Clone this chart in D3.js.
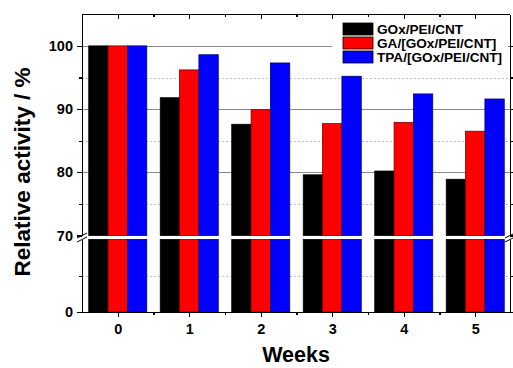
<!DOCTYPE html>
<meta charset="utf-8">
<style>
 body { margin: 0; background: #fff; }
 svg { display: block; font-family: 'Liberation Sans', Arial, Helvetica, sans-serif; font-weight: bold; }
 .axis path, .axis line { fill: none; stroke: #000; stroke-width: 1.2; shape-rendering: crispEdges; }
 .axis text { font-size: 14.5px; font-weight: bold; fill: #000; }
 .grid-major { stroke: #8a8a8a; stroke-width: 1; shape-rendering: crispEdges; }
 .grid-minor { stroke: #c4c4c4; stroke-width: 1; stroke-dasharray: 2,2; shape-rendering: crispEdges; }
</style>
<body>
<script src="https://cdn.jsdelivr.net/npm/d3@7"></script>
<script>

 // weeks on the x axis
 var weeks = [0, 1, 2, 3, 4, 5];
 var seriesNames = ["GOx/PEI/CNT", "GA/[GOx/PEI/CNT]", "TPA/[GOx/PEI/CNT]"];
 var goxPeiCnt = [100, 91.8, 87.6, 79.6, 80.2, 78.9];
 var gaGoxPeiCnt = [100, 96.2, 89.9, 87.7, 87.9, 86.5];
 var tpaGoxPeiCnt = [100, 98.6, 97.3, 95.2, 92.4, 91.6];

 // broken y axis: upper 70-105, lower 0-70
 var upperTicks = [70, 80, 90, 100];
 var upperMinor = [75, 85, 95];
 var lowerTicks = [0];
 var lowerMinor = [35];

 var colors = ["#000000", "#ff0000", "#0000ff"];
 var strokes = ["#000000", "#7a0000", "#00007a"];

 var width = 513, height = 368;
 var plotLeft = 82, plotRight = 510, plotTop = 14.3, plotBottom = 312;
 var breakTop = 235.5, breakBottom = 239.5;

 var svg = d3.select("body").append("svg")
             .attr("width", width)
             .attr("height", height);

 var x = d3.scaleLinear().domain([-0.5, 5.5]).range([plotLeft, 511]);
 var inner = d3.scaleBand().domain(seriesNames).range([-29, 29]);

 var yUp = d3.scaleLinear().domain([70, 105]).range([breakTop, plotTop]);
 var yLow = d3.scaleLinear().domain([0, 70]).range([plotBottom, breakBottom]);

 var series = seriesNames.map(function(name, i) {
     var vals = [goxPeiCnt, gaGoxPeiCnt, tpaGoxPeiCnt][i];
     return { name: name, color: colors[i], stroke: strokes[i],
              values: weeks.map(function(w, j) { return { week: w, value: vals[j], name: name }; }) };
 });

 // grid lines
 var grid = svg.append("g");
 grid.selectAll(".gm").data(upperTicks.filter(function(d) { return d > 70; }))
     .enter().append("line").attr("class", "grid-major")
     .attr("x1", plotLeft).attr("x2", plotRight)
     .attr("y1", function(d) { return Math.round(yUp(d)) + 0.5; })
     .attr("y2", function(d) { return Math.round(yUp(d)) + 0.5; });
 grid.selectAll(".gu").data(upperMinor).enter().append("line").attr("class", "grid-minor")
     .attr("x1", plotLeft).attr("x2", plotRight)
     .attr("y1", function(d) { return Math.round(yUp(d)) + 0.5; })
     .attr("y2", function(d) { return Math.round(yUp(d)) + 0.5; });
 grid.selectAll(".gl").data(lowerMinor).enter().append("line").attr("class", "grid-minor")
     .attr("x1", plotLeft).attr("x2", plotRight)
     .attr("y1", function(d) { return Math.round(yLow(d)) + 0.5; })
     .attr("y2", function(d) { return Math.round(yLow(d)) + 0.5; });

 // bars, drawn in two pieces around the break
 var groups = svg.selectAll(".series").data(series).enter().append("g");
 groups.selectAll(".bar-up").data(function(d) { return d.values; }).enter().append("rect")
       .attr("x", function(d) { return x(d.week) + inner(d.name); })
       .attr("width", inner.bandwidth())
       .attr("y", function(d) { return yUp(d.value); })
       .attr("height", function(d) { return yUp(70) - yUp(d.value); })
       .attr("fill", function(d) { return colors[seriesNames.indexOf(d.name)]; })
       .attr("stroke", function(d) { return strokes[seriesNames.indexOf(d.name)]; })
       .attr("stroke-width", 0.8);
 groups.selectAll(".bar-low").data(function(d) { return d.values; }).enter().append("rect")
       .attr("x", function(d) { return x(d.week) + inner(d.name); })
       .attr("width", inner.bandwidth())
       .attr("y", yLow(70))
       .attr("height", yLow(0) - yLow(70))
       .attr("fill", function(d) { return colors[seriesNames.indexOf(d.name)]; })
       .attr("stroke", function(d) { return strokes[seriesNames.indexOf(d.name)]; })
       .attr("stroke-width", 0.8);

 // legend
 var legend = svg.append("g").attr("transform", "translate(343,23)");
 legend.append("rect").attr("x", -11).attr("y", -5).attr("width", 176).attr("height", 50).attr("fill", "#fff");
 var li = legend.selectAll(".li").data(series).enter().append("g")
                .attr("transform", function(d, i) { return "translate(0," + i * 14 + ")"; });
 li.append("rect").attr("width", 30).attr("height", 12)
   .attr("fill", function(d) { return d.color; })
   .attr("stroke", "#000").attr("stroke-width", 0.8);
 li.append("text").attr("x", 34).attr("y", 11)
   .attr("font-size", "13.6px").attr("font-weight", "bold")
   .text(function(d) { return d.name; });

 // x axes (bottom and top)
 var halfTicks = [0.5, 1.5, 2.5, 3.5, 4.5];
 svg.append("g").attr("class", "axis")
    .attr("transform", "translate(0," + plotBottom + ")")
    .call(d3.axisBottom(x).tickValues(weeks).tickSize(5).tickSizeOuter(0).tickPadding(7).tickFormat(d3.format("d")));
 svg.append("g").attr("class", "axis")
    .attr("transform", "translate(0," + plotBottom + ")")
    .call(d3.axisBottom(x).tickValues(halfTicks).tickSize(3).tickSizeOuter(0).tickFormat(""))
    .select(".domain").remove();
 svg.append("g").attr("class", "axis")
    .attr("transform", "translate(0," + plotTop + ")")
    .call(d3.axisBottom(x).tickValues(weeks).tickSize(5).tickSizeOuter(0).tickFormat(""));
 svg.append("g").attr("class", "axis")
    .attr("transform", "translate(0," + plotTop + ")")
    .call(d3.axisBottom(x).tickValues(halfTicks).tickSize(3).tickSizeOuter(0).tickFormat(""))
    .select(".domain").remove();
 // keep the frame inside the right edge
 svg.selectAll(".axis .domain").attr("d", function() {
     return "M" + plotLeft + ",0.5H" + plotRight;
 });

 // y axes, left and right, upper and lower segments
 function yAxes(scale, major, minor, xPos, axisFn, labels) {
     svg.append("g").attr("class", "axis")
        .attr("transform", "translate(" + xPos + ",0)")
        .call(axisFn(scale).tickValues(major).tickSize(5).tickSizeOuter(0).tickPadding(4)
                           .tickFormat(labels ? d3.format("d") : ""));
     svg.append("g").attr("class", "axis")
        .attr("transform", "translate(" + xPos + ",0)")
        .call(axisFn(scale).tickValues(minor).tickSize(3).tickSizeOuter(0).tickFormat(""))
        .select(".domain").remove();
 }
 yAxes(yUp, upperTicks, upperMinor, plotLeft, d3.axisLeft, true);
 yAxes(yLow, lowerTicks, lowerMinor, plotLeft, d3.axisLeft, true);
 yAxes(yUp, upperTicks, upperMinor, plotRight, d3.axisRight, false);
 yAxes(yLow, lowerTicks, lowerMinor, plotRight, d3.axisRight, false);

 // break marks
 [plotLeft, plotRight].forEach(function(xp) {
     [breakTop, breakBottom].forEach(function(yp) {
         svg.append("line").attr("x1", xp - 5).attr("x2", xp + 5)
            .attr("y1", yp + 2.5).attr("y2", yp - 2.5)
            .attr("stroke", "#000").attr("stroke-width", 1);
     });
 });

 // axis titles
 svg.append("text")
    .attr("transform", "translate(30,172) rotate(-90)")
    .attr("text-anchor", "middle")
    .attr("font-size", "22.5px")
    .text("Relative activity / %");
 svg.append("text")
    .attr("x", (plotLeft + plotRight) / 2).attr("y", 362)
    .attr("text-anchor", "middle")
    .attr("font-size", "21.5px")
    .text("Weeks");

</script>
</body>
